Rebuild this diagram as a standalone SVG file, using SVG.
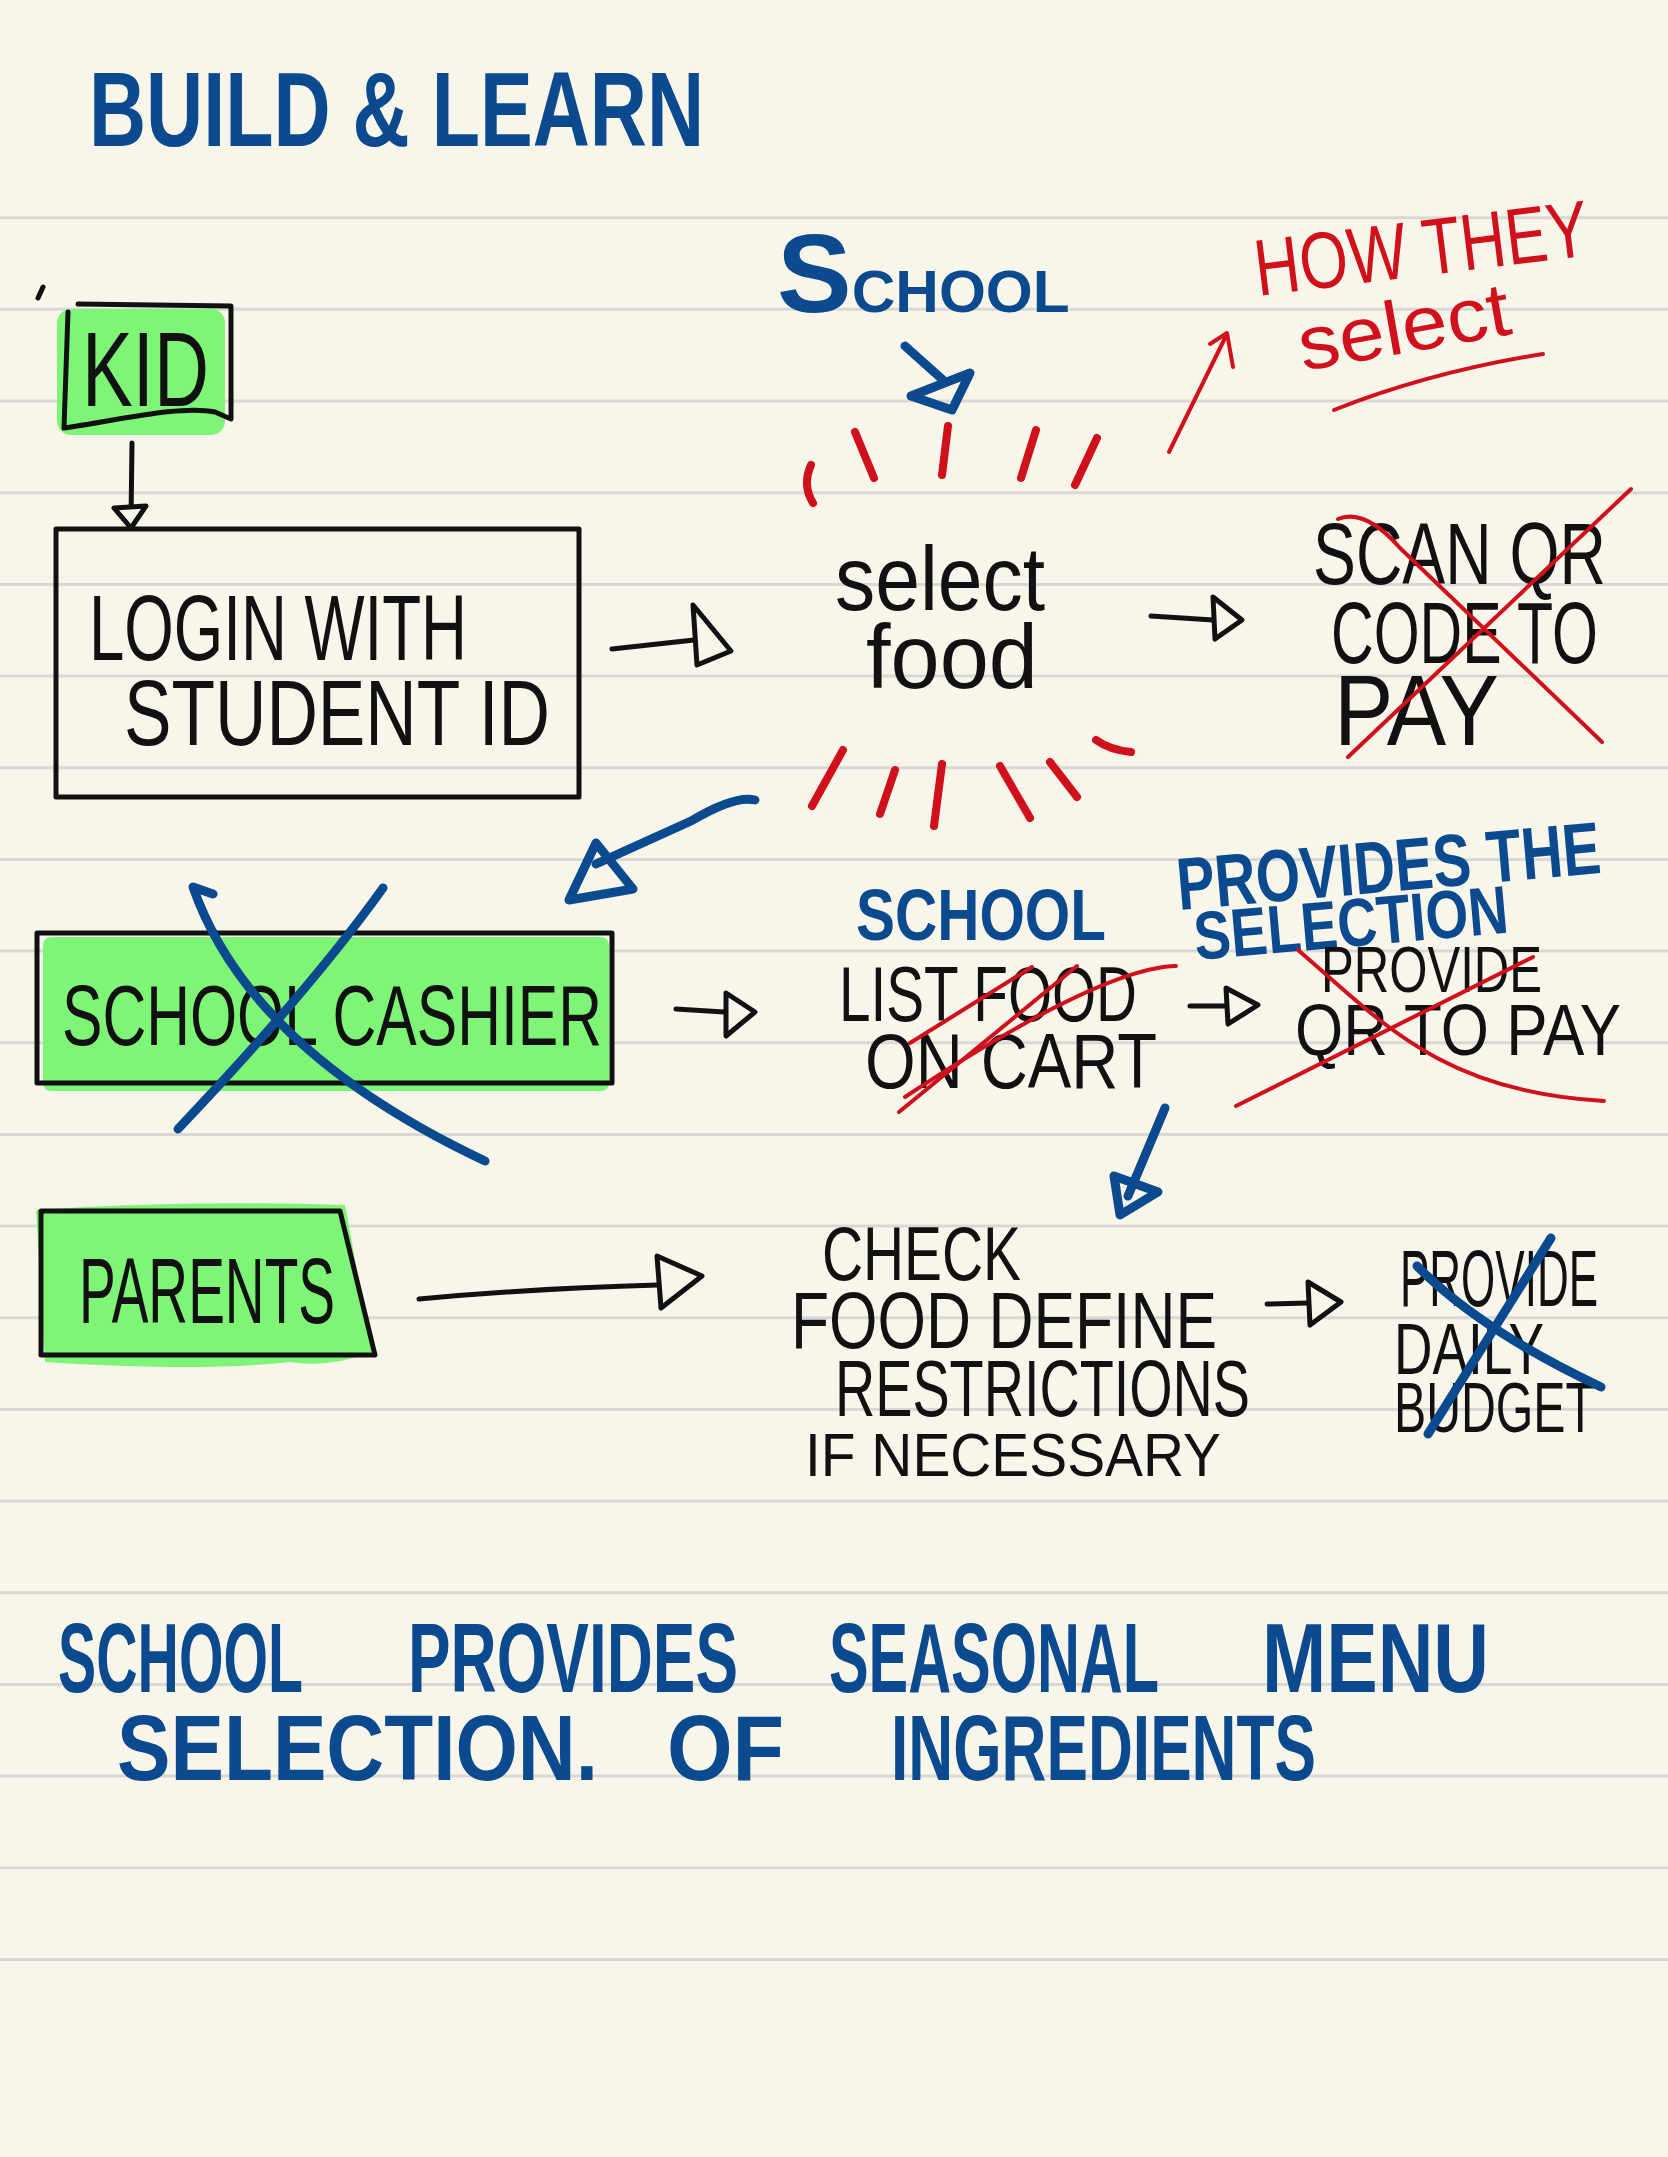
<svg xmlns="http://www.w3.org/2000/svg" width="1668" height="2157" viewBox="0 0 1668 2157">
<style>
.rule{stroke:#d8d8d5;stroke-width:3}
.k{fill:none;stroke:#111;stroke-width:5;stroke-linecap:round;stroke-linejoin:round}
.kh{fill:#f8f6eb;stroke:#111;stroke-width:5;stroke-linejoin:round}
.b{fill:none;stroke:#0b4a8e;stroke-width:9;stroke-linecap:round;stroke-linejoin:round}
.r{fill:none;stroke:#d0101b;stroke-width:4;stroke-linecap:round;stroke-linejoin:round}
.rd{fill:none;stroke:#d0101b;stroke-width:8;stroke-linecap:round}
.green{fill:#7ef577}
text{font-family:"Liberation Sans",Arial,sans-serif}
.tk{fill:#111}
.tb{fill:#0b4a8e;font-weight:bold}
.tr{fill:#d0101b}
</style>
<rect width="1668" height="2157" fill="#f8f6eb"/>
<g id="rules">
<line class="rule" x1="0" y1="217.7" x2="1668" y2="217.7"/>
<line class="rule" x1="0" y1="309.3" x2="1668" y2="309.3"/>
<line class="rule" x1="0" y1="401" x2="1668" y2="401"/>
<line class="rule" x1="0" y1="492.7" x2="1668" y2="492.7"/>
<line class="rule" x1="0" y1="584.4" x2="1668" y2="584.4"/>
<line class="rule" x1="0" y1="676" x2="1668" y2="676"/>
<line class="rule" x1="0" y1="767.7" x2="1668" y2="767.7"/>
<line class="rule" x1="0" y1="859.4" x2="1668" y2="859.4"/>
<line class="rule" x1="0" y1="951" x2="1668" y2="951"/>
<line class="rule" x1="0" y1="1042.7" x2="1668" y2="1042.7"/>
<line class="rule" x1="0" y1="1134.4" x2="1668" y2="1134.4"/>
<line class="rule" x1="0" y1="1226" x2="1668" y2="1226"/>
<line class="rule" x1="0" y1="1317.7" x2="1668" y2="1317.7"/>
<line class="rule" x1="0" y1="1409.4" x2="1668" y2="1409.4"/>
<line class="rule" x1="0" y1="1501" x2="1668" y2="1501"/>
<line class="rule" x1="0" y1="1592.7" x2="1668" y2="1592.7"/>
<line class="rule" x1="0" y1="1684.4" x2="1668" y2="1684.4"/>
<line class="rule" x1="0" y1="1776" x2="1668" y2="1776"/>
<line class="rule" x1="0" y1="1867.7" x2="1668" y2="1867.7"/>
<line class="rule" x1="0" y1="1959.4" x2="1668" y2="1959.4"/>
</g>

<g id="title">
<text class="tb" x="89" y="146" font-size="106" textLength="615" lengthAdjust="spacingAndGlyphs">BUILD &amp; LEARN</text>
<path class="k" d="M43,287 L38,298"/>
</g>

<g id="kid">
<rect class="green" x="57" y="309" width="168" height="126" rx="14"/>
<path class="k" d="M68,312 L64,428 C120,420 180,405 215,412 L231,419 L231,306 L78,304"/>
<text class="tk" x="82" y="406" font-size="106" textLength="127" lengthAdjust="spacingAndGlyphs">KID</text>
</g>

<g id="login">
<rect class="k" x="56" y="529" width="523" height="268"/>
<text class="tk" x="89" y="660" font-size="92" textLength="378" lengthAdjust="spacingAndGlyphs">LOGIN WITH</text>
<text class="tk" x="124" y="745" font-size="92" textLength="426" lengthAdjust="spacingAndGlyphs">STUDENT ID</text>
</g>

<g id="school-top">
<text class="tb" x="777" y="312"><tspan font-size="112">S</tspan><tspan font-size="60" textLength="218" lengthAdjust="spacingAndGlyphs">CHOOL</tspan></text>
</g>

<g id="select-food">
<path class="rd" d="M811,465 Q802,485 813,503"/>
<line class="rd" x1="855" y1="432" x2="874" y2="478"/>
<line class="rd" x1="948" y1="426" x2="942" y2="475"/>
<line class="rd" x1="1036" y1="430" x2="1021" y2="478"/>
<line class="rd" x1="1097" y1="438" x2="1075" y2="485"/>
<line class="rd" x1="843" y1="750" x2="812" y2="806"/>
<line class="rd" x1="895" y1="770" x2="880" y2="814"/>
<line class="rd" x1="942" y1="764" x2="934" y2="826"/>
<line class="rd" x1="1000" y1="766" x2="1030" y2="818"/>
<line class="rd" x1="1050" y1="762" x2="1077" y2="797"/>
<path class="rd" d="M1096,740 Q1110,750 1131,752"/>
<text class="tk" x="835" y="610" font-size="90" textLength="210" lengthAdjust="spacingAndGlyphs">select</text>
<text class="tk" x="866" y="688" font-size="90" textLength="172" lengthAdjust="spacingAndGlyphs">food</text>
</g>

<g id="how-they-select">
<text class="tr" x="1258" y="296" font-size="80" textLength="336" lengthAdjust="spacingAndGlyphs" transform="rotate(-7 1258 296)">HOW THEY</text>
<text class="tr" x="1303" y="371" font-size="76" textLength="214" lengthAdjust="spacingAndGlyphs" transform="rotate(-10 1303 371)">select</text>
<path class="r" d="M1334,410 Q1430,372 1543,354"/>
</g>

<g id="scan-qr">
<text class="tk" x="1313" y="584" font-size="88" textLength="293" lengthAdjust="spacingAndGlyphs">SCAN QR</text>
<text class="tk" x="1331" y="663" font-size="88" textLength="267" lengthAdjust="spacingAndGlyphs">CODE TO</text>
<text class="tk" x="1334" y="745" font-size="100" textLength="165" lengthAdjust="spacingAndGlyphs">PAY</text>
<path class="r" d="M1631,489 L1348,757"/>
<path class="r" d="M1338,519 Q1365,508 1400,548 L1602,742"/>
</g>

<g id="school-cashier">
<rect class="green" x="43" y="937" width="566" height="154" rx="8"/>
<rect class="k" x="37" y="933" width="575" height="150"/>
<text class="tk" x="62" y="1045" font-size="86" textLength="540" lengthAdjust="spacingAndGlyphs">SCHOOL CASHIER</text>
<path class="b" d="M213,894 L193,887 Q250,1050 485,1161"/>
<path class="b" d="M383,888 Q310,990 178,1129"/>
</g>

<g id="school-provides">
<text class="tb" x="856" y="940" font-size="72" textLength="250" lengthAdjust="spacingAndGlyphs">SCHOOL</text>
<text class="tb" x="1179" y="910" font-size="74" textLength="425" lengthAdjust="spacingAndGlyphs" transform="rotate(-5 1179 910)">PROVIDES THE</text>
<text class="tb" x="1196" y="960" font-size="68" textLength="315" lengthAdjust="spacingAndGlyphs" transform="rotate(-5 1196 960)">SELECTION</text>
</g>

<g id="list-food">
<text class="tk" x="839" y="1021" font-size="78" textLength="298" lengthAdjust="spacingAndGlyphs">LIST FOOD</text>
<text class="tk" x="865" y="1088" font-size="78" textLength="292" lengthAdjust="spacingAndGlyphs">ON CART</text>
<path class="r" d="M910,1043 L1032,967"/>
<path class="r" d="M899,1112 L1077,966"/>
<path class="r" d="M905,1097 Q1100,968 1176,966"/>
</g>

<g id="provide-qr">
<text class="tk" x="1321" y="992" font-size="64" textLength="221" lengthAdjust="spacingAndGlyphs">PROVIDE</text>
<text class="tk" x="1295" y="1055" font-size="72" textLength="326" lengthAdjust="spacingAndGlyphs">QR TO PAY</text>
<path class="r" d="M1298,950 C1380,1020 1440,1092 1604,1101"/>
<path class="r" d="M1236,1106 L1533,957"/>
</g>

<g id="check-food">
<text class="tk" x="822" y="1280" font-size="76" textLength="199" lengthAdjust="spacingAndGlyphs">CHECK</text>
<text class="tk" x="791" y="1348" font-size="80" textLength="426" lengthAdjust="spacingAndGlyphs">FOOD DEFINE</text>
<text class="tk" x="835" y="1416" font-size="80" textLength="415" lengthAdjust="spacingAndGlyphs">RESTRICTIONS</text>
<text class="tk" x="805" y="1476" font-size="62" textLength="416" lengthAdjust="spacingAndGlyphs">IF NECESSARY</text>
</g>

<g id="daily-budget">
<text class="tk" x="1400" y="1306" font-size="80" textLength="198" lengthAdjust="spacingAndGlyphs">PROVIDE</text>
<text class="tk" x="1394" y="1374" font-size="72" textLength="150" lengthAdjust="spacingAndGlyphs">DAILY</text>
<text class="tk" x="1394" y="1432" font-size="70" textLength="201" lengthAdjust="spacingAndGlyphs">BUDGET</text>
<path class="b" d="M1551,1238 L1428,1434"/>
<path class="b" d="M1417,1266 Q1480,1330 1601,1387"/>
</g>

<g id="parents">
<path class="green" d="M36,1210 Q180,1200 345,1205 L372,1352 Q330,1368 290,1362 Q200,1372 45,1362 Z"/>
<path class="k" d="M41,1211 L340,1211 L375,1355 L41,1355 Z"/>
<text class="tk" x="79" y="1323" font-size="92" textLength="256" lengthAdjust="spacingAndGlyphs">PARENTS</text>
</g>

<g id="bottom-note">
<text class="tb" x="58" y="1692" font-size="98" textLength="245" lengthAdjust="spacingAndGlyphs">SCHOOL</text>
<text class="tb" x="408" y="1692" font-size="98" textLength="330" lengthAdjust="spacingAndGlyphs">PROVIDES</text>
<text class="tb" x="829" y="1692" font-size="98" textLength="330" lengthAdjust="spacingAndGlyphs">SEASONAL</text>
<text class="tb" x="1262" y="1692" font-size="98" textLength="227" lengthAdjust="spacingAndGlyphs">MENU</text>
<text class="tb" x="117" y="1780" font-size="92" textLength="481" lengthAdjust="spacingAndGlyphs">SELECTION.</text>
<text class="tb" x="667" y="1780" font-size="92" textLength="117" lengthAdjust="spacingAndGlyphs">OF</text>
<text class="tb" x="891" y="1780" font-size="92" textLength="425" lengthAdjust="spacingAndGlyphs">INGREDIENTS</text>
</g>

<g id="connectors">
<path class="k" d="M132,443 L131,522"/>
<path class="kh" d="M114,508 L146,506 L131,528 Z"/>
<path class="k" d="M612,649 L694,640"/>
<path class="kh" d="M693,605 L731,651 L697,665 Z"/>
<path class="k" d="M1151,616 L1213,620"/>
<path class="kh" d="M1213,597 L1242,620 L1215,639 Z"/>
<path class="k" d="M676,1009 L724,1012"/>
<path class="kh" d="M726,993 L755,1012 L726,1036 Z"/>
<path class="k" d="M1190,1006 L1226,1006"/>
<path class="kh" d="M1226,988 L1258,1005 L1228,1024 Z"/>
<path class="k" d="M1267,1304 L1308,1303"/>
<path class="kh" d="M1308,1282 L1341,1302 L1310,1325 Z"/>
<path class="k" d="M419,1299 Q540,1288 658,1285"/>
<path class="kh" d="M657,1256 L702,1276 L661,1308 Z"/>
<path class="b" d="M755,800 Q735,795 691,821 L596,864"/>
<path class="b" d="M596,843 L569,900 L633,889 Z" fill="#f8f6eb"/>
<path class="b" d="M905,346 L943,380"/>
<path class="b" d="M911,396 L970,373 L952,410 Z" fill="#0b4a8e"/>
<path class="b" d="M1165,1108 L1128,1196"/>
<path class="b" d="M1114,1176 L1158,1192 L1120,1215 Z" fill="#0b4a8e"/>
<path class="r" d="M1169,452 L1225,338"/>
<path class="r" d="M1210,344 L1227,333 L1233,367"/>
</g>
</svg>
